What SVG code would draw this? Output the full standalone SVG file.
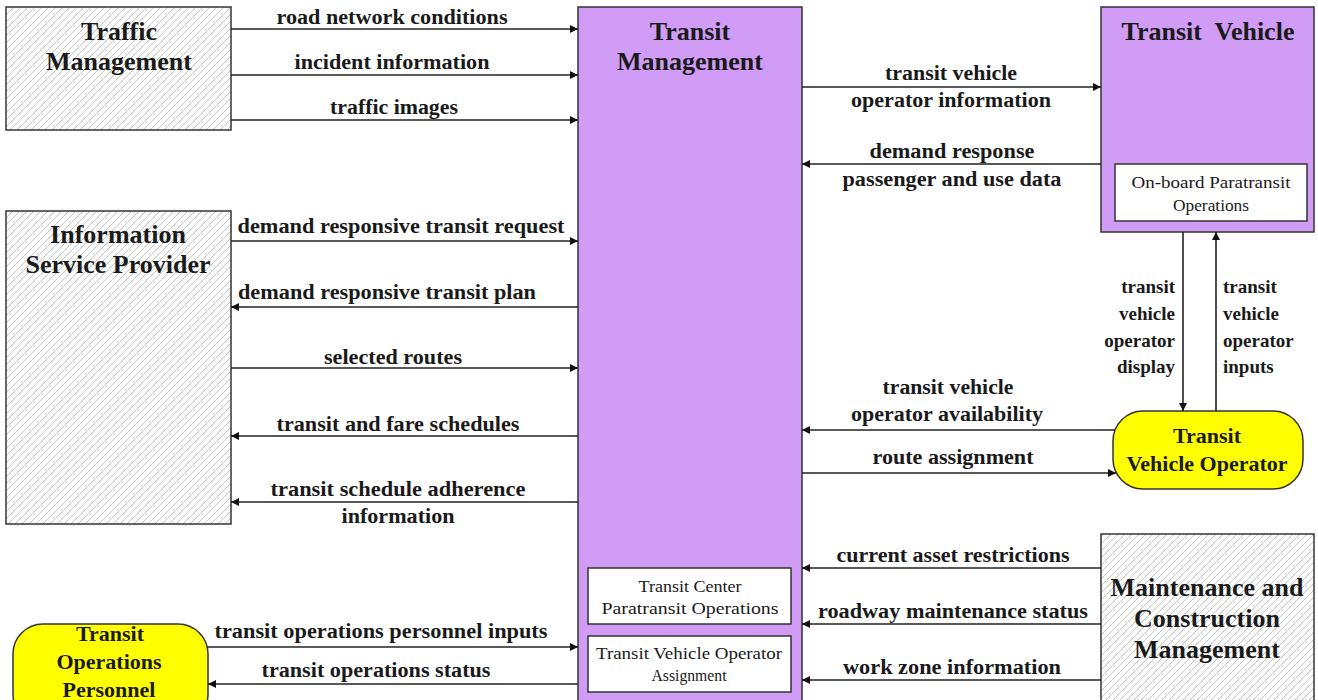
<svg xmlns="http://www.w3.org/2000/svg" width="1318" height="700" viewBox="0 0 1318 700">
<style>
.box{stroke:#333;stroke-width:1.5}
.hatch{fill:url(#hatch)}
.purple{fill:#D09CF6}
.yellow{fill:#FFFF00}
.inner{fill:#fff;stroke:#333;stroke-width:1.5}
.title{font-family:"Liberation Serif","Times New Roman",serif;font-weight:bold;font-size:26px;fill:#1a1a1a;text-anchor:middle}
.ytitle{font-family:"Liberation Serif","Times New Roman",serif;font-weight:bold;font-size:22px;fill:#1a1a1a;text-anchor:middle}
.lbl{font-family:"Liberation Serif","Times New Roman",serif;font-weight:bold;font-size:20px;fill:#1a1a1a;text-anchor:middle}
.vl{font-family:"Liberation Serif","Times New Roman",serif;font-weight:bold;font-size:19px;fill:#1a1a1a}
.small{font-family:"Liberation Serif","Times New Roman",serif;font-size:16px;fill:#1a1a1a;text-anchor:middle}
.conn line{stroke:#222;stroke-width:1.6}
</style>
<defs>
<pattern id="hatch" patternUnits="userSpaceOnUse" width="7" height="7">
<rect width="7" height="7" fill="#fff"/>
<path d="M-1,1 l2,-2 M0,7 l7,-7 M6,8 l2,-2" stroke="#c4c4c4" stroke-width="1"/>
</pattern>
<marker id="arr" viewBox="0 0 10 10" refX="10" refY="5" markerWidth="10" markerHeight="8" markerUnits="userSpaceOnUse" orient="auto">
<path d="M0,0 L10,5 L0,10 z" fill="#111"/>
</marker>
</defs>
<rect width="1318" height="700" fill="#fff"/>

<g id="transit-management">
<rect class="box purple" x="578" y="7" width="224" height="710"/>
<text class="title" x="690" y="40">Transit</text>
<text class="title" x="690" y="70">Management</text>
<rect class="inner" x="588" y="568" width="203" height="56"/>
<text class="small" x="690" y="592" textLength="103" lengthAdjust="spacingAndGlyphs">Transit Center</text>
<text class="small" x="690" y="614" textLength="177" lengthAdjust="spacingAndGlyphs">Paratransit Operations</text>
<rect class="inner" x="588" y="636" width="203" height="56"/>
<text class="small" x="689" y="659" textLength="186" lengthAdjust="spacingAndGlyphs">Transit Vehicle  Operator</text>
<text class="small" x="689" y="681" textLength="75" lengthAdjust="spacingAndGlyphs">Assignment</text>
</g>

<g id="traffic-management">
<rect class="box hatch" x="6" y="7" width="225" height="123"/>
<text class="title" x="119" y="40">Traffic</text>
<text class="title" x="119" y="70">Management</text>
</g>

<g id="information-service-provider">
<rect class="box hatch" x="6" y="211" width="225" height="313"/>
<text class="title" x="118" y="243">Information</text>
<text class="title" x="118" y="273">Service Provider</text>
</g>

<g id="transit-vehicle">
<rect class="box purple" x="1101" y="7" width="213" height="225"/>
<text class="title" x="1208" y="40" xml:space="preserve">Transit  Vehicle</text>
<rect class="inner" x="1115" y="164" width="192" height="57"/>
<text class="small" x="1211" y="188" textLength="159" lengthAdjust="spacingAndGlyphs">On-board Paratransit</text>
<text class="small" x="1211" y="211" textLength="76" lengthAdjust="spacingAndGlyphs">Operations</text>
</g>

<g id="transit-vehicle-operator">
<rect class="box yellow" x="1113" y="411" width="190" height="78" rx="30" ry="30"/>
<text class="ytitle" x="1207" y="443">Transit</text>
<text class="ytitle" x="1207" y="471">Vehicle Operator</text>
</g>

<g id="maintenance-construction-management">
<rect class="box hatch" x="1101" y="534" width="213" height="200"/>
<text class="title" x="1207" y="596">Maintenance and</text>
<text class="title" x="1207" y="627">Construction</text>
<text class="title" x="1207" y="658">Management</text>
</g>

<g id="transit-operations-personnel">
<rect class="box yellow" x="13" y="624" width="195" height="100" rx="30" ry="30"/>
<text class="ytitle" x="110" y="641">Transit</text>
<text class="ytitle" x="109" y="669">Operations</text>
<text class="ytitle" x="109" y="697">Personnel</text>
</g>

<g id="connectors" class="conn">
<line x1="231" y1="29" x2="578" y2="29" marker-end="url(#arr)"/>
<line x1="231" y1="75" x2="578" y2="75" marker-end="url(#arr)"/>
<line x1="231" y1="120" x2="578" y2="120" marker-end="url(#arr)"/>
<line x1="231" y1="241" x2="578" y2="241" marker-end="url(#arr)"/>
<line x1="578" y1="307" x2="231" y2="307" marker-end="url(#arr)"/>
<line x1="231" y1="368" x2="578" y2="368" marker-end="url(#arr)"/>
<line x1="578" y1="436" x2="231" y2="436" marker-end="url(#arr)"/>
<line x1="578" y1="502" x2="231" y2="502" marker-end="url(#arr)"/>
<line x1="802" y1="87" x2="1101" y2="87" marker-end="url(#arr)"/>
<line x1="1101" y1="164" x2="802" y2="164" marker-end="url(#arr)"/>
<line x1="1183" y1="232" x2="1183" y2="411" marker-end="url(#arr)"/>
<line x1="1216" y1="411" x2="1216" y2="232" marker-end="url(#arr)"/>
<line x1="1115" y1="430" x2="802" y2="430" marker-end="url(#arr)"/>
<line x1="802" y1="473" x2="1116" y2="473" marker-end="url(#arr)"/>
<line x1="1101" y1="568" x2="802" y2="568" marker-end="url(#arr)"/>
<line x1="1101" y1="624" x2="802" y2="624" marker-end="url(#arr)"/>
<line x1="1101" y1="680" x2="802" y2="680" marker-end="url(#arr)"/>
<line x1="207" y1="647" x2="578" y2="647" marker-end="url(#arr)"/>
<line x1="578" y1="684" x2="208" y2="684" marker-end="url(#arr)"/>
</g>

<g id="connector-labels">
<text class="lbl" x="392" y="24" textLength="231" lengthAdjust="spacingAndGlyphs">road network conditions</text>
<text class="lbl" x="392" y="69" textLength="195" lengthAdjust="spacingAndGlyphs">incident information</text>
<text class="lbl" x="394" y="114" textLength="128" lengthAdjust="spacingAndGlyphs">traffic images</text>
<text class="lbl" x="401" y="233" textLength="327" lengthAdjust="spacingAndGlyphs">demand responsive transit request</text>
<text class="lbl" x="387" y="299" textLength="298" lengthAdjust="spacingAndGlyphs">demand responsive transit plan</text>
<text class="lbl" x="393" y="364" textLength="138" lengthAdjust="spacingAndGlyphs">selected routes</text>
<text class="lbl" x="398" y="431" textLength="243" lengthAdjust="spacingAndGlyphs">transit and fare schedules</text>
<text class="lbl" x="398" y="496" textLength="255" lengthAdjust="spacingAndGlyphs">transit schedule adherence</text>
<text class="lbl" x="398" y="523" textLength="113" lengthAdjust="spacingAndGlyphs">information</text>
<text class="lbl" x="951" y="80" textLength="132" lengthAdjust="spacingAndGlyphs">transit vehicle</text>
<text class="lbl" x="951" y="107" textLength="200" lengthAdjust="spacingAndGlyphs">operator information</text>
<text class="lbl" x="952" y="158" textLength="165" lengthAdjust="spacingAndGlyphs">demand response</text>
<text class="lbl" x="952" y="186" textLength="219" lengthAdjust="spacingAndGlyphs">passenger and use data</text>
<text class="lbl" x="948" y="394" textLength="131" lengthAdjust="spacingAndGlyphs">transit vehicle</text>
<text class="lbl" x="947" y="421" textLength="192" lengthAdjust="spacingAndGlyphs">operator availability</text>
<text class="lbl" x="953" y="464" textLength="161" lengthAdjust="spacingAndGlyphs">route assignment</text>
<text class="lbl" x="953" y="562" textLength="233" lengthAdjust="spacingAndGlyphs">current asset restrictions</text>
<text class="lbl" x="953" y="618" textLength="270" lengthAdjust="spacingAndGlyphs">roadway maintenance status</text>
<text class="lbl" x="952" y="674" textLength="218" lengthAdjust="spacingAndGlyphs">work zone information</text>
<text class="lbl" x="381" y="638" textLength="333" lengthAdjust="spacingAndGlyphs">transit operations personnel inputs</text>
<text class="lbl" x="376" y="677" textLength="229" lengthAdjust="spacingAndGlyphs">transit operations status</text>
<text class="vl" x="1175" y="293" text-anchor="end">transit</text>
<text class="vl" x="1175" y="320" text-anchor="end">vehicle</text>
<text class="vl" x="1175" y="347" text-anchor="end">operator</text>
<text class="vl" x="1175" y="373" text-anchor="end">display</text>
<text class="vl" x="1223" y="293">transit</text>
<text class="vl" x="1223" y="320">vehicle</text>
<text class="vl" x="1223" y="347">operator</text>
<text class="vl" x="1223" y="373">inputs</text>
</g>
</svg>
